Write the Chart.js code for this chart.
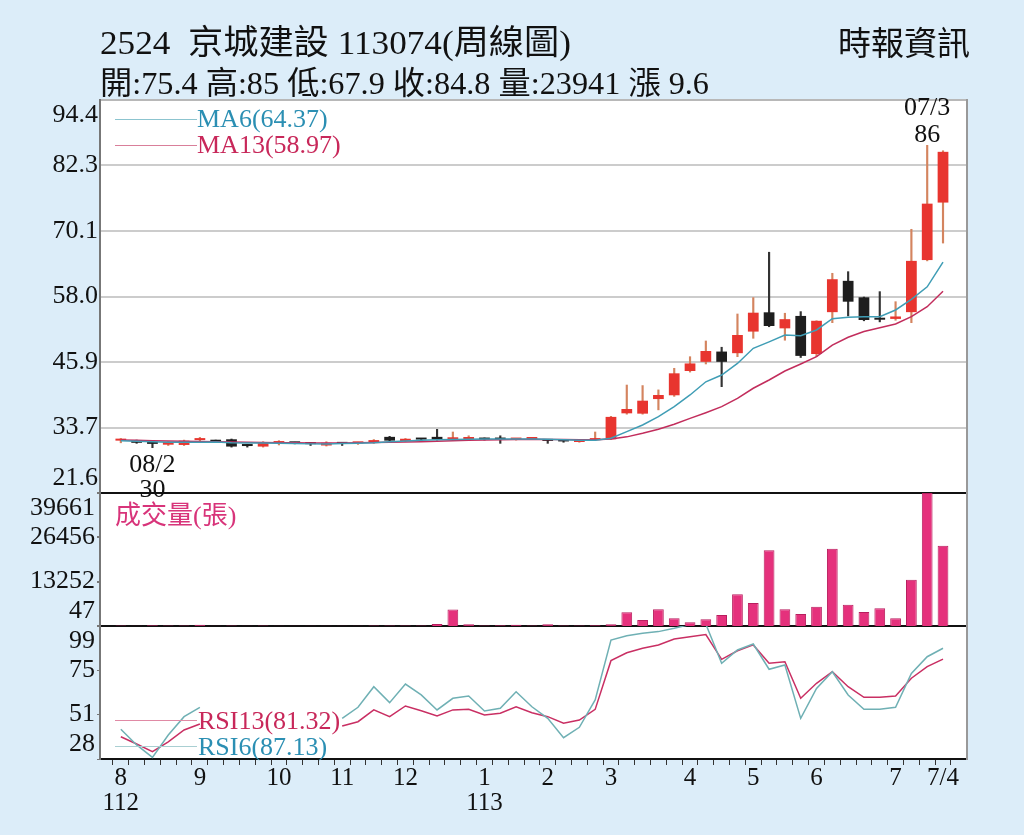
<!DOCTYPE html>
<html lang="zh-Hant">
<head>
<meta charset="utf-8">
<title>2524 京城建設 周線圖</title>
<script src="https://cdn.jsdelivr.net/npm/chart.js@4.4.1/dist/chart.umd.min.js"></script>
<style>
  html, body { margin: 0; padding: 0; }
  body {
    width: 1024px; height: 835px; overflow: hidden; position: relative;
    background: #dcedf9; color: #111;
    font-family: 'Liberation Serif', 'Noto Sans CJK TC', serif;
  }
  #chart { position: absolute; left: 0; top: 0; }
  .txt { position: absolute; white-space: nowrap; line-height: 1; transform-origin: 0 50%; }
  .key { position: absolute; width: 82px; height: 0; border-top: 1px solid; }
</style>
</head>
<body>
<canvas id="chart" width="1024" height="835"></canvas>

<div class="txt" id="title" data-w="471" style="left:100px; top:26px; font-size:34px;">2524&nbsp; 京城建設 113074(周線圖)</div>
<div class="txt" id="quote" data-w="609" style="left:100px; top:67px; font-size:32px;"></div>
<div class="txt" data-w="132" style="left:838px; top:28px; font-size:33px;">時報資訊</div>

<div class="key" style="left:115px; top:119px; border-color:#8cc4cf;"></div>
<div class="txt" id="ma6Key" style="left:197px; top:106px; font-size:26px; color:#2b8fb3;"></div>
<div class="key" style="left:115px; top:145px; border-color:#d97f9a;"></div>
<div class="txt" id="ma13Key" style="left:197px; top:132px; font-size:26px; color:#c8285a;"></div>

<div class="txt" style="left:115px; top:503px; font-size:26px; color:#d8347a;">成交量(張)</div>

<div class="key" style="left:115px; top:720px; border-color:#e08aa5;"></div>
<div class="txt" id="rsi13Key" style="left:198px; top:708px; font-size:26px; color:#c8285a;"></div>
<div class="key" style="left:115px; top:746px; border-color:#a9cfd2;"></div>
<div class="txt" id="rsi6Key" style="left:198px; top:734px; font-size:26px; color:#2b8fb3;"></div>

<script>
// weekly candles, Aug 2023 (112) .. Jul 2024 (113)
const opens = [31.3, 31.3, 30.8, 30.55, 30.5, 31.4, 31.3, 31.55, 30.4, 30.2,
  30.85, 30.95, 30.7, 30.4, 30.75, 30.8, 30.9, 32.0, 31.2, 31.6,
  32.0, 31.55, 31.6, 31.6, 31.6, 31.5, 31.6, 31.3, 31.2, 31.05,
  31.4, 31.55, 36.36, 36.3, 39.0, 39.7, 44.2, 45.9, 47.8, 47.5,
  51.5, 55.07, 52.1, 54.4, 47.35, 55.1, 60.9, 57.85, 54.0, 53.85,
  55.1, 64.75, 75.4];
const highs = [31.7, 31.4, 31.0, 31.1, 31.4, 31.9, 31.4, 31.6, 30.6, 31.1,
  31.3, 31.0, 30.9, 31.1, 30.9, 31.0, 31.5, 32.1, 31.7, 31.7,
  33.4, 32.9, 32.2, 31.8, 32.2, 31.7, 31.8, 31.4, 31.3, 31.4,
  32.9, 35.8, 41.6, 41.5, 40.7, 44.7, 46.85, 49.76, 48.6, 54.76,
  57.8, 66.2, 54.9, 55.2, 53.5, 62.3, 62.6, 57.9, 58.9, 57.04,
  70.45, 86, 85];
const lows = [30.9, 30.8, 30.0, 30.4, 30.4, 31.2, 31.0, 30.1, 30.1, 30.1,
  30.5, 30.7, 30.4, 30.3, 30.4, 30.6, 30.8, 31.2, 31.1, 31.3,
  31.4, 31.5, 31.5, 31.4, 30.8, 31.4, 31.5, 30.8, 31.0, 31.0,
  31.3, 31.5, 36.2, 36.2, 37.0, 39.5, 44.0, 45.5, 41.3, 46.85,
  50.26, 52.4, 49.9, 46.7, 46.85, 53.15, 54.4, 53.5, 53.3, 53.6,
  53.15, 64.6, 67.9];
const closes = [31.55, 30.9, 30.7, 31.05, 31.3, 31.5, 31.1, 30.2, 30.3, 31.0,
  30.9, 30.8, 30.65, 30.9, 30.7, 30.85, 31.4, 31.3, 31.65, 31.5,
  31.5, 31.6, 31.7, 31.5, 31.5, 31.55, 31.75, 31.25, 31.15, 31.35,
  31.5, 35.7, 37.16, 38.7, 39.75, 43.77, 45.6, 47.9, 45.9, 50.87,
  55.0, 52.54, 53.8, 47.0, 53.5, 61.2, 57.04, 53.65, 53.7, 54.3,
  64.6, 75.2, 84.8];
const volumes = [180, 150, 260, 170, 210, 420, 140, 230, 120, 160,
  130, 110, 100, 150, 120, 130, 180, 220, 190, 160,
  650, 4980, 550, 180, 260, 400, 200, 550, 180, 160,
  300, 550, 4128, 1834, 5022, 2341, 1149, 2043, 3324, 9490,
  6898, 22597, 5022, 3622, 5796, 23074, 6392, 4217, 5320, 2341,
  13839, 39661, 23941];
const ma6 = [31.3, 31.2, 31.1, 31.0, 31.0, 31.0, 31.05, 30.9, 30.85, 30.85,
  30.8, 30.75, 30.7, 30.7, 30.75, 30.8, 30.9, 31.1, 31.25, 31.35,
  31.45, 31.5, 31.55, 31.6, 31.6, 31.6, 31.6, 31.55, 31.45, 31.35,
  31.35, 31.73, 32.96, 34.2, 35.74, 37.6, 39.76, 42.2, 43.46, 45.6,
  48.4, 49.6, 50.87, 50.74, 51.8, 53.9, 54.15, 54.26, 54.26, 55.5,
  57.48, 59.8, 64.37];
const ma13 = [31.4, 31.35, 31.3, 31.25, 31.2, 31.15, 31.1, 31.05, 31.0, 30.95,
  30.9, 30.9, 30.85, 30.85, 30.85, 30.9, 30.95, 31.0, 31.05, 31.1,
  31.2, 31.3, 31.35, 31.4, 31.45, 31.5, 31.55, 31.5, 31.5, 31.45,
  31.45, 31.6, 32.0, 32.66, 33.4, 34.33, 35.43, 36.48, 37.6, 39.14,
  41.0, 42.53, 44.2, 45.5, 46.85, 49.0, 50.44, 51.5, 52.2, 52.9,
  54.26, 56.1, 58.97];
// RSI points hidden behind the legend are left empty
const rsi6 = [43.9, 35.5, 28.9, 40.8, 50.6, 55.6, null, null, null, null,
  null, null, null, null, 49.7, 55.6, 66.6, 58.1, 68.0, 62.2,
  54.2, 60.4, 61.6, 53.6, 55.1, 63.9, 55.9, 49.7, 39.4, 44.9,
  59.5, 91.5, 93.8, 95.1, 96.0, 97.8, 99.8, 100, 79.1, 86.2,
  89.4, 75.9, 78.2, 49.7, 65.7, 74.6, 62.2, 54.5, 54.5, 55.6,
  73.7, 82.6, 87.13];
const rsi13 = [39.9, 36.0, 31.9, 37.2, 43.5, 46.7, null, null, null, null,
  null, null, null, null, 45.6, 47.9, 54.2, 50.6, 56.3, 53.8,
  51.0, 54.2, 54.5, 51.5, 52.4, 55.9, 52.7, 50.6, 47.1, 48.8,
  54.5, 80.5, 84.7, 87.1, 88.9, 92.1, 93.3, 94.4, 81.2, 85.8,
  88.9, 79.1, 79.9, 60.4, 68.4, 74.6, 66.6, 60.9, 60.9, 61.6,
  71.1, 77.3, 81.32];

const monthTicks = [0, 5, 10, 14, 18, 23, 27, 31, 36, 40, 44, 49, 52];
const monthLabels = [['8', '112'], '9', '10', '11', '12', ['1', '113'], '2', '3', '4', '5', '6', '7', '7/4'];

const priceTicks = [21.6, 33.73, 45.87, 58.0, 70.13, 82.27, 94.4];
const priceTickLabels = ['21.6', '33.7', '45.9', '58.0', '70.1', '82.3', '94.4'];
const volTicks = [47, 13252, 26456, 39661];
const volTickLabels = ['47', '13252', '26456', '39661'];
const rsiTicks = [28, 51.67, 75.33, 99];
const rsiTickLabels = ['28', '51', '75', '99'];

const highDate = '07/3';
const lowDate = '08/2';

const UP = '#e8352f', DOWN = '#1e1e1e';
const UP_WICK = '#d4845f', DOWN_WICK = '#333333';

// header text from the last candle
const last = closes.length - 1;
document.getElementById('quote').textContent =
  '開:' + opens[last].toFixed(1) + ' 高:' + highs[last] + ' 低:' + lows[last].toFixed(1) +
  ' 收:' + closes[last].toFixed(1) + ' 量:' + volumes[last] +
  ' 漲 ' + (closes[last] - closes[last - 1]).toFixed(1);
document.getElementById('ma6Key').textContent = 'MA6(' + ma6[last].toFixed(2) + ')';
document.getElementById('ma13Key').textContent = 'MA13(' + ma13[last].toFixed(2) + ')';
document.getElementById('rsi13Key').textContent = 'RSI13(' + rsi13[last].toFixed(2) + ')';
document.getElementById('rsi6Key').textContent = 'RSI6(' + rsi6[last].toFixed(2) + ')';

const isUp = i => closes[i] >= opens[i];
const xy = arr => arr.map((v, i) => ({ x: i, y: v }));

// labels at the panel edges sit inside the panel
function edgeLabels(labels) {
  return (value, i, ticks) => {
    if (i === 0) return [labels[i], ''];
    if (i === ticks.length - 1) return ['', labels[i]];
    return labels[i];
  };
}

function panelAxis(ticksArr, labels, weight, stackWeight) {
  return {
    type: 'linear',
    position: 'left',
    stack: 'panels',
    stackWeight: stackWeight,
    weight: weight,
    min: ticksArr[0],
    max: ticksArr[ticksArr.length - 1],
    afterBuildTicks: s => { s.ticks = ticksArr.map(v => ({ value: v })); },
    afterFit: s => { s.width = 100; },
    border: { display: true, color: '#777', width: 2 },
    ticks: {
      autoSkip: false,
      padding: 2,
      color: '#111',
      font: { size: 26, lineHeight: 1.15 },
      callback: edgeLabels(labels)
    }
  };
}

const plotBackground = {
  id: 'plotBackground',
  beforeDraw(chart) {
    const { ctx, chartArea: a } = chart;
    ctx.save();
    ctx.fillStyle = '#ffffff';
    ctx.fillRect(a.left, a.top, a.right - a.left, a.bottom - a.top);
    ctx.restore();
  }
};

const extremeLabels = {
  id: 'extremeLabels',
  afterDatasetsDraw(chart) {
    const { ctx, chartArea, scales } = chart;
    const hi = highs.indexOf(Math.max(...highs));
    const lo = lows.indexOf(Math.min(...lows));
    ctx.save();
    ctx.font = "26px 'Liberation Serif'";
    ctx.fillStyle = '#111';
    ctx.textAlign = 'center';
    ctx.textBaseline = 'alphabetic';

    const hx = scales.x.getPixelForValue(hi);
    const hy = scales.y.getPixelForValue(highs[hi]);
    const w = ctx.measureText(highDate).width;
    ctx.fillText(String(highs[hi]), hx, hy - 3);
    ctx.fillText(highDate, Math.min(hx, chartArea.right - 16 - w / 2), hy - 30);

    const lx = scales.x.getPixelForValue(lo);
    const ly = scales.y.getPixelForValue(lows[lo]);
    ctx.fillText(lowDate, lx, ly + 24);
    ctx.fillText(String(lows[lo]), lx, ly + 49);
    ctx.restore();
  }
};

function draw() {
  document.querySelectorAll('[data-w]').forEach(el => {
    const w = el.getBoundingClientRect().width;
    el.style.transform = 'scaleX(' + (el.dataset.w / w) + ')';
  });

  Chart.defaults.font.family = "'Liberation Serif', 'Noto Sans CJK TC', serif";
  Chart.defaults.color = '#111';

  const priceAxis = panelAxis(priceTicks, priceTickLabels, 3, 393);
  priceAxis.grid = {
    drawTicks: false,
    lineWidth: 2,
    color: c => c.index === 0 ? '#111111' : (c.index === priceTicks.length - 1 ? '#b8b8b8' : '#cccccc')
  };
  const volAxis = panelAxis(volTicks, volTickLabels, 2, 133);
  volAxis.grid = {
    drawTicks: true,
    tickLength: 3,
    tickColor: '#777',
    lineWidth: 2,
    color: c => c.index === 0 ? '#111111' : 'rgba(0,0,0,0)'
  };
  const rsiAxis = panelAxis(rsiTicks, rsiTickLabels, 1, 133);
  rsiAxis.grid = { drawOnChartArea: false, drawTicks: true, tickLength: 3, color: '#777' };

  new Chart(document.getElementById('chart'), {
    type: 'bar',
    data: {
      datasets: [
        {
          type: 'line', label: 'MA6', yAxisID: 'y', order: 0,
          data: xy(ma6), borderColor: '#3f9db5', borderWidth: 1.5, pointRadius: 0, tension: 0
        },
        {
          type: 'line', label: 'MA13', yAxisID: 'y', order: 0,
          data: xy(ma13), borderColor: '#c22d5c', borderWidth: 1.5, pointRadius: 0, tension: 0
        },
        {
          label: 'body', yAxisID: 'y', order: 1, grouped: false,
          data: opens.map((o, i) => ({ x: i, y: [o, closes[i]] })),
          backgroundColor: c => isUp(c.dataIndex) ? UP : DOWN,
          barPercentage: 0.68, categoryPercentage: 1, minBarLength: 2
        },
        {
          label: 'wick', yAxisID: 'y', order: 2, grouped: false,
          data: lows.map((l, i) => ({ x: i, y: [l, highs[i]] })),
          backgroundColor: c => isUp(c.dataIndex) ? UP_WICK : DOWN_WICK,
          barThickness: 1.5
        },
        {
          label: '成交量(張)', yAxisID: 'yVol', order: 1, grouped: false,
          data: xy(volumes),
          backgroundColor: '#e5317c', borderColor: '#b81e5e', borderWidth: 1,
          barPercentage: 0.68, categoryPercentage: 1
        },
        {
          type: 'line', label: 'RSI6', yAxisID: 'yRsi', order: 0,
          data: xy(rsi6), borderColor: '#6fb0b4', borderWidth: 1.5, pointRadius: 0, tension: 0, spanGaps: false
        },
        {
          type: 'line', label: 'RSI13', yAxisID: 'yRsi', order: 0,
          data: xy(rsi13), borderColor: '#c92f63', borderWidth: 1.5, pointRadius: 0, tension: 0, spanGaps: false
        }
      ]
    },
    options: {
      responsive: false,
      animation: false,
      events: [],
      layout: { padding: { top: 100, right: 57, bottom: 0, left: 0 } },
      plugins: { legend: { display: false }, tooltip: { enabled: false } },
      scales: {
        x: {
          type: 'linear',
          min: -0.8,
          max: 53,
          afterBuildTicks: s => { s.ticks = closes.map((_, i) => ({ value: i })); },
          afterFit: s => { s.height = 76; },
          border: { display: true, color: '#111', width: 2 },
          grid: { drawOnChartArea: false, drawTicks: true, tickLength: 6, color: '#333' },
          ticks: {
            autoSkip: false, maxRotation: 0, minRotation: 0, padding: 1,
            color: '#111',
            font: { size: 25, lineHeight: 1 },
            callback: v => {
              const k = monthTicks.indexOf(v);
              return k < 0 ? '' : monthLabels[k];
            }
          }
        },
        yRsi: rsiAxis,
        yVol: volAxis,
        y: priceAxis,
        yr: {
          type: 'linear',
          position: 'right',
          afterFit: s => { s.width = 0; },
          grid: { display: false },
          ticks: { display: false },
          border: { display: true, color: '#999', width: 2 }
        }
      }
    },
    plugins: [plotBackground, extremeLabels]
  });
}

if (document.fonts && document.fonts.ready) {
  document.fonts.ready.then(draw);
} else {
  draw();
}
</script>
</body>
</html>
